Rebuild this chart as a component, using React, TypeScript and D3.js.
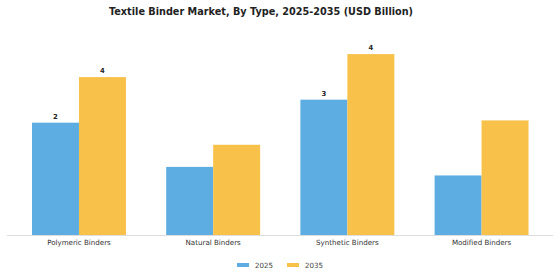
import React from "react";
import * as d3 from "d3";

const categories = ["Polymeric Binders", "Natural Binders", "Synthetic Binders", "Modified Binders"];
const seriesNames = ["2025", "2035"];
const values2025 = [2.49, 1.51, 3.0, 1.32];
const values2035 = [3.5, 2.0, 4.01, 2.54];
const labelShown = [true, false, true, false];
const colors = ["#5DADE2", "#F7C14A"];

const W = 560;
const H = 280;

export default function App() {
  const step = 134.2;
  const x0 = d3
    .scaleBand<string>()
    .domain(categories)
    .range([32 - 0.15 * step, 32 - 0.15 * step + step * 4])
    .paddingInner(0.3)
    .paddingOuter(0.15);
  const x1 = d3.scaleBand<string>().domain(seriesNames).range([0, x0.bandwidth()]).padding(0);
  const y = d3.scaleLinear().domain([0, 4.5]).range([235, 32]);
  const series = [values2025, values2035];

  return (
    <svg width={W} height={H} style={{ display: "block", position: "absolute", left: 0, top: 0 }} fontFamily="DejaVu Sans, sans-serif">
      <rect x={0} y={0} width={W} height={H} fill="#ffffff" />
      <text x={261} y={14.5} textAnchor="middle" fontSize={9.7} fontWeight="bold" fill="#222">
        Textile Binder Market, By Type, 2025-2035 (USD Billion)
      </text>
      <line x1={7} x2={553} y1={235.5} y2={235.5} stroke="#dddddd" strokeWidth={1} />
      {categories.map((c, i) => (
        <g key={c} transform={`translate(${x0(c)},0)`}>
          {series.map((vals, s) => (
            <rect
              key={s}
              x={x1(seriesNames[s])}
              y={y(vals[i])}
              width={x1.bandwidth()}
              height={y(0) - y(vals[i])}
              fill={colors[s]}
            />
          ))}
          {labelShown[i] &&
            series.map((vals, s) => (
              <text
                key={"l" + s}
                x={(x1(seriesNames[s]) as number) + x1.bandwidth() / 2}
                y={y(vals[i]) - 4}
                textAnchor="middle"
                fontSize={6.8}
                fontWeight="bold"
                fill="#222"
              >
                {Math.round(vals[i])}
              </text>
            ))}
          <text x={x0.bandwidth() / 2} y={245.3} textAnchor="middle" fontSize={7.1} fill="#333">
            {c}
          </text>
        </g>
      ))}
      {seriesNames.map((n, s) => (
        <g key={n} transform={`translate(${237 + s * 50},0)`}>
          <rect x={0} y={263} width={12} height={4} fill={colors[s]} />
          <text x={18} y={267.7} fontSize={7.1} fill="#444">
            {n}
          </text>
        </g>
      ))}
    </svg>
  );
}
